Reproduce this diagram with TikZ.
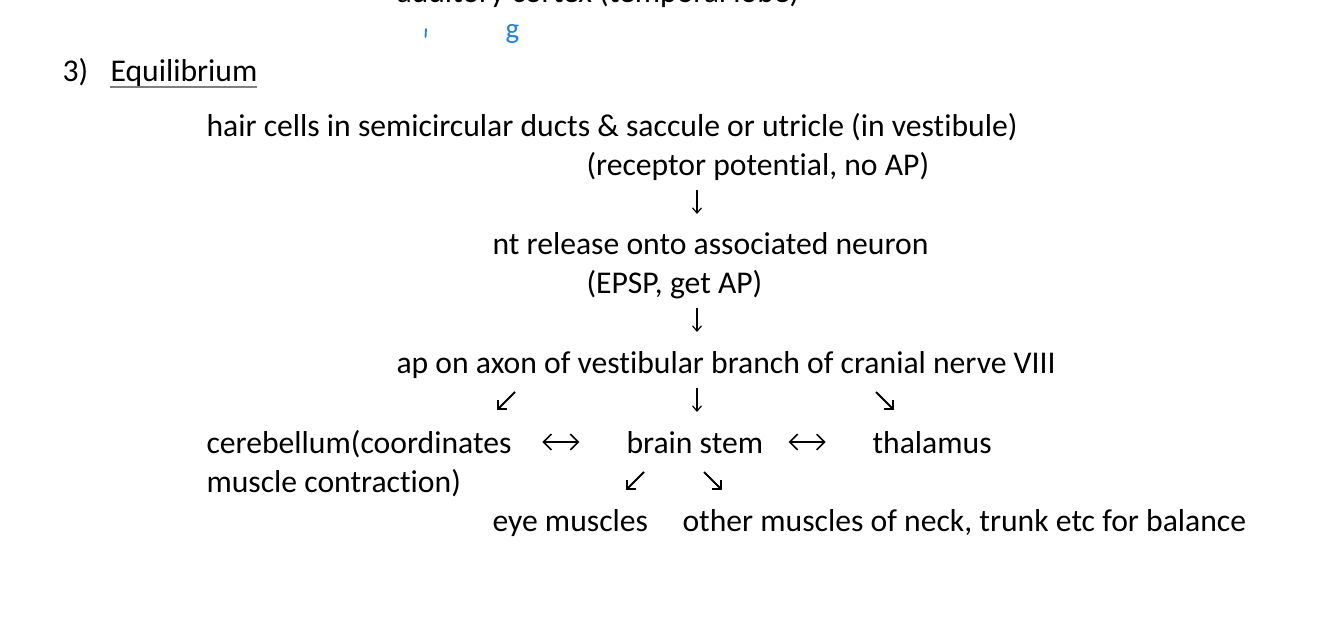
\documentclass[tikz,border=0pt]{standalone}
\usepackage{fontspec}
\setmainfont{Carlito}[Ligatures=NoCommon]
\usetikzlibrary{arrows.meta}
\definecolor{penblue}{RGB}{30,128,232}
\tikzstyle{txt} = [anchor=base west, inner sep=0pt, font=\fontsize{12pt}{14pt}\selectfont]
\tikzstyle{line} = [draw, line width=0.45pt, -{Straight Barb[length=2pt,width=3.4pt]}]
\tikzstyle{slant} = [draw, line width=0.7pt, -{Straight Barb[length=2.4pt,width=4.8pt]}]
\tikzstyle{both} = [draw, line width=0.6pt, {Straight Barb[length=3pt,width=6pt]}-{Straight Barb[length=3pt,width=6pt]}]

\begin{document}
\begin{tikzpicture}[x=0.379pt, y=-0.379pt]
	\useasboundingbox (0,0) rectangle (1334,636);

	% cut off line from the previous part
	\node [txt] (cortex) at (396,3) {auditory cortex (temporal lobe)};
	\draw [penblue, line width=0.7pt, line cap=round] (426,29) -- (425.5,37);
	\node [txt, penblue, font=\fontsize{11pt}{13pt}\selectfont] (mark) at (505,39) {g};

	\node [txt] (num) at (62,82) {3)};
	\node [txt] (title) at (110,82) {Equilibrium};
	\draw [gray, line width=0.6pt] (110,87) -- (257,87);

	\node [txt] (hair) at (206,137) {hair cells in semicircular ducts \& saccule or utricle (in vestibule)};
	\node [txt] (recpot) at (586,176) {(receptor potential, no AP)};
	\node [txt] (nt) at (492,254) {nt release onto associated neuron};
	\node [txt] (epsp) at (586,294) {(EPSP, get AP)};
	\node [txt] (ap) at (396,373) {ap on axon of vestibular branch of cranial nerve VIII};
	\node [txt] (cereb) at (206,453) {cerebellum(coordinates};
	\node [txt] (cereb2) at (206,492) {muscle contraction)};
	\node [txt] (stem) at (626,453) {brain stem};
	\node [txt] (thal) at (872,453) {thalamus};
	\node [txt] (eye) at (492,531) {eye muscles};
	\node [txt] (other) at (682,531) {other muscles of neck, trunk etc for balance};

	% arrows
	\coordinate (a1) at (697,190); \coordinate (b1) at (697,214);
	\coordinate (a2) at (697,308); \coordinate (b2) at (697,332);
	\coordinate (a3) at (515,392); \coordinate (b3) at (497,410);
	\coordinate (a4) at (697,388); \coordinate (b4) at (697,412);
	\coordinate (a5) at (876,392); \coordinate (b5) at (894,410);
	\coordinate (a6) at (644,472); \coordinate (b6) at (626,490);
	\coordinate (a7) at (704,472); \coordinate (b7) at (722,490);

	\path [line] (a1) -- (b1);
	\path [line] (a2) -- (b2);
	\path [slant] (a3) -- (b3);
	\path [line] (a4) -- (b4);
	\path [slant] (a5) -- (b5);
	\path [slant] (a6) -- (b6);
	\path [slant] (a7) -- (b7);

	\path [both] ([xshift=11.5pt]cereb.base east) ++(0,-11) coordinate (c1) -- ++(37,0) coordinate (c2);
	\path [both] ([xshift=9.5pt]stem.base east) ++(0,-11) coordinate (c3) -- ++(37,0) coordinate (c4);
\end{tikzpicture}
\end{document}
